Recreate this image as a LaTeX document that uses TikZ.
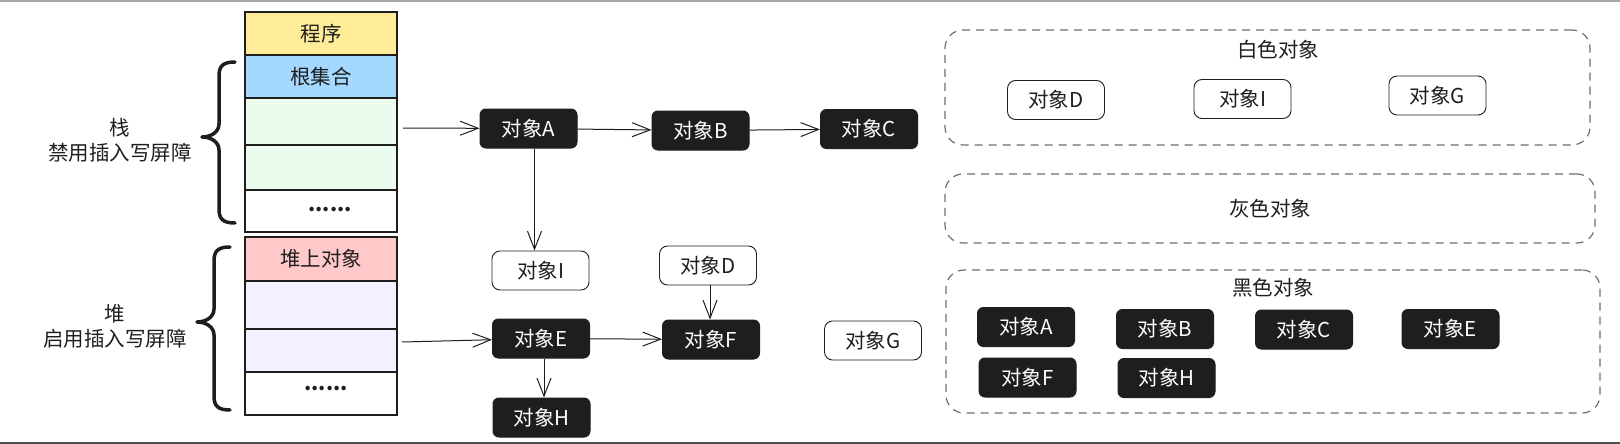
\documentclass[tikz,border=0pt]{standalone}
\usepackage{fontspec}
\setmainfont{Noto Sans CJK SC}
\usetikzlibrary{arrows.meta}
\definecolor{ink}{HTML}{1E1E1E}
\definecolor{cyellow}{HTML}{FFEC99}
\definecolor{cblue}{HTML}{A5D8FF}
\definecolor{cgreen}{HTML}{EBFBEE}
\definecolor{cpink}{HTML}{FFC9C9}
\definecolor{clav}{HTML}{F3F0FF}
\definecolor{cdash}{HTML}{6E6E6E}
\begin{document}
\begin{tikzpicture}[x=1pt,y=-1pt,
  font=\fontsize{20.5}{25}\selectfont,
  cell/.style={draw=ink, line width=1.5pt, minimum width=152pt, inner sep=0pt, text=ink},
  bobj/.style={fill=ink, draw=ink, line width=1pt, rounded corners=6pt, minimum width=97pt, minimum height=39pt, text=white, inner sep=0pt},
  wobj/.style={fill=white, draw=ink, line width=0.9pt, rounded corners=8pt, minimum width=97pt, minimum height=39pt, text=ink, inner sep=0pt},
  grp/.style={draw=cdash, line width=1.2pt, dash pattern=on 8pt off 6pt, rounded corners=18pt, inner sep=0pt, text=ink},
  txt/.style={text=ink, inner sep=0pt, align=center},
  conn/.style={draw=ink, line width=1pt, -{Straight Barb[length=18pt,width=14pt]}},
  bracepath/.style={draw=ink, line width=3.5pt, line cap=round, line join=round}]
\useasboundingbox (0,0) rectangle (1620,444);
% frame lines
\draw[gray!70, line width=2pt] (0,1) -- (1620,1);
\draw[black!70, line width=2pt] (0,443) -- (1620,443);

% stack cells
\node[cell, fill=cyellow, minimum height=43pt] (prog) at (321,33.5) {程序};
\node[cell, fill=cblue, minimum height=43pt] (root) at (321,76.5) {根集合};
\node[cell, fill=cgreen, minimum height=47pt] (g1) at (321,121.5) {};
\node[cell, fill=cgreen, minimum height=45pt] (g2) at (321,167.5) {};
\node[cell, fill=white, minimum height=42pt] (sd) at (321,211) {};
\node[txt] (sdots) at (330,210) {\textbf{......}};

% heap cells
\node[cell, fill=cpink, minimum height=44pt] (hobj) at (321,259) {堆上对象};
\node[cell, fill=clav, minimum height=48pt] (l1) at (321,305) {};
\node[cell, fill=clav, minimum height=43pt] (l2) at (321,350.5) {};
\node[cell, fill=white, minimum height=43pt] (hd) at (321,393.5) {};
\node[txt] (hdots) at (326,389) {\textbf{......}};

% braces
\draw[bracepath] (235,62) .. controls (223,62) and (219,66) .. (219,76) -- (219,124)
  .. controls (219,132) and (211,137) .. (202,137)
  .. controls (211,137) and (219,142) .. (219,150) -- (219,209)
  .. controls (219,219) and (223,223) .. (235,223);
\draw[bracepath] (230,247) .. controls (218,247) and (214,251) .. (214,261) -- (214,309)
  .. controls (214,317) and (206,322) .. (197,322)
  .. controls (206,322) and (214,327) .. (214,335) -- (214,396)
  .. controls (214,406) and (218,410) .. (230,410);

% labels
\node[txt] (slabel) at (120,140.5) {栈\\禁用插入写屏障};
\node[txt] (hlabel) at (115,326.5) {堆\\启用插入写屏障};

% object graph
\node[bobj] (A) at (528.5,128.5) {对象A};
\node[bobj] (B) at (700.5,130.5) {对象B};
\node[bobj] (C) at (869,129) {对象C};
\node[wobj] (I) at (540.5,270.5) {对象I};
\node[wobj] (D) at (708,265.5) {对象D};
\node[bobj] (E) at (541,338.5) {对象E};
\node[bobj] (F) at (711,339.5) {对象F};
\node[wobj] (G) at (873,340.5) {对象G};
\node[bobj] (H) at (541.5,417.5) {对象H};

\coordinate (sroot) at (403,128);
\coordinate (hroot) at (402,342);
\draw[conn] (sroot) -- (A);
\draw[conn] (A) -- (B);
\draw[conn] (B) -- (C);
\draw[conn] ([xshift=6pt]A.south) -- ([xshift=6pt]A.south |- I.north);
\draw[conn] (hroot) -- (E);
\draw[conn] (E) -- (F);
\draw[conn] ([xshift=2pt]D.south) -- ([xshift=2pt]D.south |- F.north);
\draw[conn] ([xshift=3pt]E.south) -- ([xshift=3pt]E.south |- H.north);

% right panel groups
\node[grp, minimum width=645pt, minimum height=115pt] (wgrp) at (1267.5,87.5) {};
\node[txt] (wtitle) at (1278,50) {白色对象};
\node[wobj] (wD) at (1056,100) {对象D};
\node[wobj] (wI) at (1242.5,99) {对象I};
\node[wobj] (wG) at (1437.5,95.5) {对象G};

\node[grp, minimum width=650pt, minimum height=69pt] (ggrp) at (1270,208.5) {灰色对象};

\node[grp, minimum width=654pt, minimum height=143pt] (bgrp) at (1273,341.5) {};
\node[txt] (btitle) at (1273,288) {黑色对象};
\node[bobj] (bA) at (1026,327) {对象A};
\node[bobj] (bB) at (1165,329) {对象B};
\node[bobj] (bC) at (1304,329.5) {对象C};
\node[bobj] (bE) at (1450.5,329) {对象E};
\node[bobj] (bF) at (1027.5,377.5) {对象F};
\node[bobj] (bH) at (1166.5,378) {对象H};
\end{tikzpicture}
\end{document}
